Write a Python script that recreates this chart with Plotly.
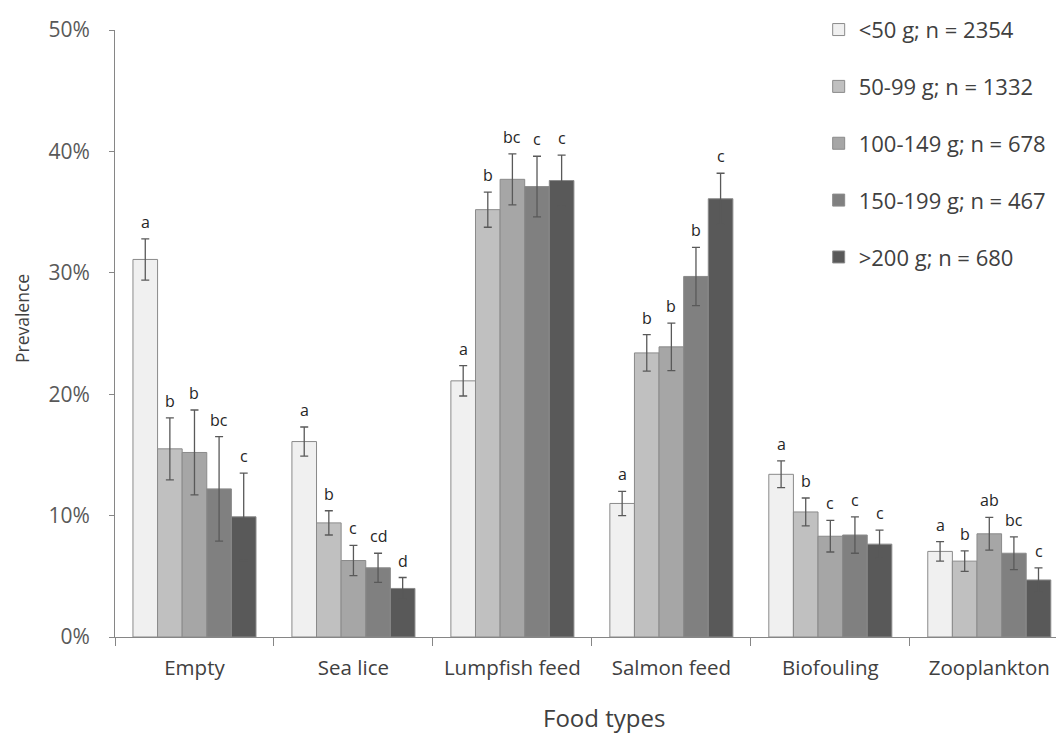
import plotly.graph_objects as go

categories = ["Empty", "Sea lice", "Lumpfish feed", "Salmon feed", "Biofouling", "Zooplankton"]
series_names = ["<50 g; n = 2354", "50-99 g; n = 1332", "100-149 g; n = 678", "150-199 g; n = 467", ">200 g; n = 680"]
colors = ["#f0f0f0", "#c0c0c0", "#a6a6a6", "#808080", "#595959"]

v_lt50 = [31.1, 16.1, 21.1, 11.0, 13.4, 7.05]
v_50_99 = [15.5, 9.4, 35.2, 23.4, 10.3, 6.25]
v_100_149 = [15.2, 6.3, 37.7, 23.9, 8.3, 8.5]
v_150_199 = [12.2, 5.7, 37.1, 29.7, 8.4, 6.9]
v_gt200 = [9.9, 4.0, 37.6, 36.1, 7.65, 4.7]

e_lt50 = [1.7, 1.2, 1.25, 1.0, 1.1, 0.8]
e_50_99 = [2.55, 1.0, 1.45, 1.5, 1.15, 0.85]
e_100_149 = [3.5, 1.25, 2.1, 1.95, 1.3, 1.35]
e_150_199 = [4.3, 1.2, 2.5, 2.4, 1.5, 1.35]
e_gt200 = [3.6, 0.9, 2.1, 2.1, 1.15, 1.0]

l_lt50 = ["a", "a", "a", "a", "a", "a"]
l_50_99 = ["b", "b", "b", "b", "b", "b"]
l_100_149 = ["b", "c", "bc", "b", "c", "ab"]
l_150_199 = ["bc", "cd", "c", "b", "c", "bc"]
l_gt200 = ["c", "d", "c", "c", "c", "c"]

values = [v_lt50, v_50_99, v_100_149, v_150_199, v_gt200]
errors = [e_lt50, e_50_99, e_100_149, e_150_199, e_gt200]
letters = [l_lt50, l_50_99, l_100_149, l_150_199, l_gt200]

FONT = "Open Sans"
bargap = 0.226

fig = go.Figure()
for j, name in enumerate(series_names):
    fig.add_trace(go.Bar(
        x=categories, y=values[j], name=name, legendgroup=str(j),
        marker=dict(color=colors[j], line=dict(color="#8a8a8a", width=1)),
        error_y=dict(type="data", array=errors[j], visible=True,
                     color="#595959", thickness=1.3, width=4),
    ))

n = len(series_names)
bw = (1 - bargap) / n
for j in range(n):
    off = -(1 - bargap) / 2 + bw * (j + 0.5)
    for i, c in enumerate(categories):
        fig.add_annotation(
            x=i + off, y=values[j][i] + errors[j][i], xref="x", yref="y",
            text=letters[j][i], showarrow=False, yanchor="bottom", yshift=4,
            font=dict(family=FONT, size=16, color="#262626"),
        )

# axis titles placed as annotations (reference centres them off the plot centre)
fig.add_annotation(text="Food types", xref="paper", yref="paper", x=0.515, y=-0.133,
                   xanchor="center", yanchor="middle", showarrow=False,
                   font=dict(family=FONT, size=24, color="#404040"))
fig.add_annotation(text="Prevalence", xref="paper", yref="paper", x=-0.098, y=0.5255,
                   xanchor="center", yanchor="middle", showarrow=False, textangle=-90,
                   font=dict(family=FONT, size=17.5, color="#404040"))

# page body has an 8px margin: figure is sized/offset to compensate
fig.update_layout(
    width=1056, height=728,
    margin=dict(l=107, r=0, t=22, b=99, autoexpand=False),
    paper_bgcolor="white", plot_bgcolor="white",
    barmode="group", bargap=bargap, bargroupgap=0,
    font=dict(family=FONT, color="#595959"),
    showlegend=True,
    legend=dict(x=0.7415, y=1.035, xanchor="left", yanchor="top",
                font=dict(family=FONT, size=22, color="#404040"),
                tracegroupgap=25.25, bgcolor="rgba(0,0,0,0)"),
    xaxis=dict(range=[-0.5, 5.47], showline=True, linecolor="#868686", linewidth=1,
               ticks="outside", tickson="boundaries", ticklen=8, tickcolor="#868686",
               ticklabelstandoff=12,
               tickfont=dict(family=FONT, size=20.5, color="#404040"),
               showgrid=False),
    yaxis=dict(range=[0, 50], dtick=10, ticksuffix="%", showline=True, linecolor="#868686",
               linewidth=1, ticks="outside", ticklen=5, tickcolor="#868686",
               ticklabelstandoff=15,
               tickfont=dict(family=FONT, size=21, color="#595959"),
               showgrid=False, zeroline=False),
)

fig.write_html("out.html")
